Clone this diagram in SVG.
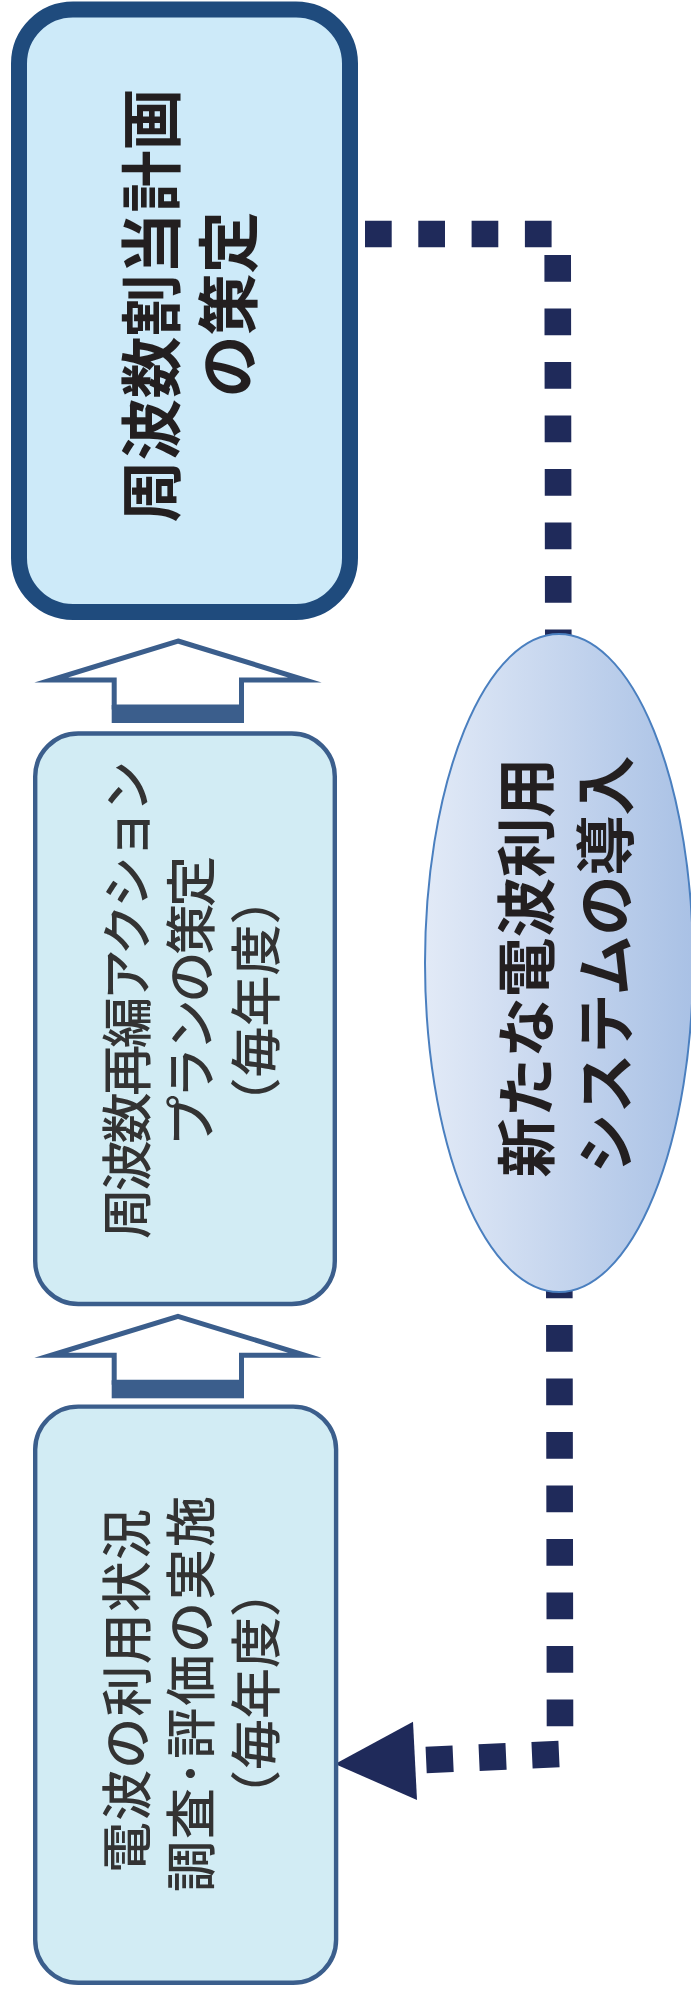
<svg xmlns="http://www.w3.org/2000/svg" width="691" height="1989" viewBox="0 0 691 1989">
<defs>
<linearGradient id="eg" x1="0" y1="0" x2="1" y2="0">
<stop offset="0" stop-color="#e2eaf7"/>
<stop offset="1" stop-color="#a9c1e5"/>
</linearGradient>
<style>
.t{font-family:"Noto Sans CJK JP","Noto Sans CJK SC",sans-serif;text-anchor:middle;dominant-baseline:central;fill:#231f20}
.b{font-weight:700}
.m{font-weight:500;fill:#333333;font-size:51px}
.box{fill:#d2ecf4;stroke:#3b5e8c;stroke-width:4.4}
.arr{fill:#ffffff;stroke:#3b5e8c;stroke-width:5;stroke-linejoin:miter;stroke-miterlimit:20}
.dash{fill:none;stroke:#1f2a5a;stroke-width:26.6}
</style>
</defs>
<g id="connectors">
<line class="dash" x1="365" y1="234" x2="552" y2="234" stroke-dasharray="26.7 26.6"/>
<line class="dash" x1="557.7" y1="255" x2="560" y2="1727" stroke-dasharray="26.8 26.7"/>
<line class="dash" x1="559" y1="1754" x2="426" y2="1760" stroke-dasharray="27 26"/>
<polygon points="335,1764 413,1721.7 417,1800" fill="#1f2a5a"/>
<g id="arrow1">
<polygon class="arr" points="178,641 305,680 241.5,680 241.5,707 114.2,707 114.2,680 51,680"/>
<rect x="111.7" y="705" width="132.3" height="18" fill="#3b5e8c"/>
</g>
<g id="arrow2" transform="translate(0,675.3)">
<polygon class="arr" points="178,641 305,680 241.5,680 241.5,707 114.2,707 114.2,680 51,680"/>
<rect x="111.7" y="705" width="132.3" height="18" fill="#3b5e8c"/>
</g>
</g>
<g id="node-plan">
<rect x="19" y="9.5" width="331" height="602.5" rx="54" ry="54" fill="#cdeaf9" stroke="#1f4b7d" stroke-width="16"/>
<text class="t b" font-size="62" transform="translate(148,305.5) rotate(-90)">周波数割当計画</text>
<text class="t b" font-size="62" transform="translate(224.5,304.5) rotate(-90)">の策定</text>
</g>
<g id="node-action">
<rect class="box" x="35.2" y="733.5" width="299.6" height="570.5" rx="43" ry="43"/>
<text class="t m" transform="translate(124,1000) rotate(-90)" textLength="478">周波数再編アクション</text>
<text class="t m" transform="translate(187.5,1001) rotate(-90)" textLength="290">プランの策定</text>
<text class="t m" transform="translate(252.5,1001) rotate(-90)">（毎年度）</text>
</g>
<g id="node-survey">
<rect class="box" x="35.2" y="1406.6" width="300.9" height="576.2" rx="43" ry="43"/>
<text class="t m" transform="translate(123.5,1691) rotate(-90)" textLength="364">電波の利用状況</text>
<text class="t m" transform="translate(187.5,1694) rotate(-90)" textLength="396">調査･評価の実施</text>
<text class="t m" transform="translate(252.5,1693.5) rotate(-90)">（毎年度）</text>
</g>
<g id="node-new-system">
<ellipse cx="559" cy="963" rx="134" ry="329" fill="url(#eg)" stroke="#4a7fbf" stroke-width="2"/>
<text class="t b" font-size="60" transform="translate(522.5,967.5) rotate(-90)">新たな電波利用</text>
<text class="t b" font-size="60" transform="translate(601.5,964.5) rotate(-90)">システムの導入</text>
</g>
</svg>
